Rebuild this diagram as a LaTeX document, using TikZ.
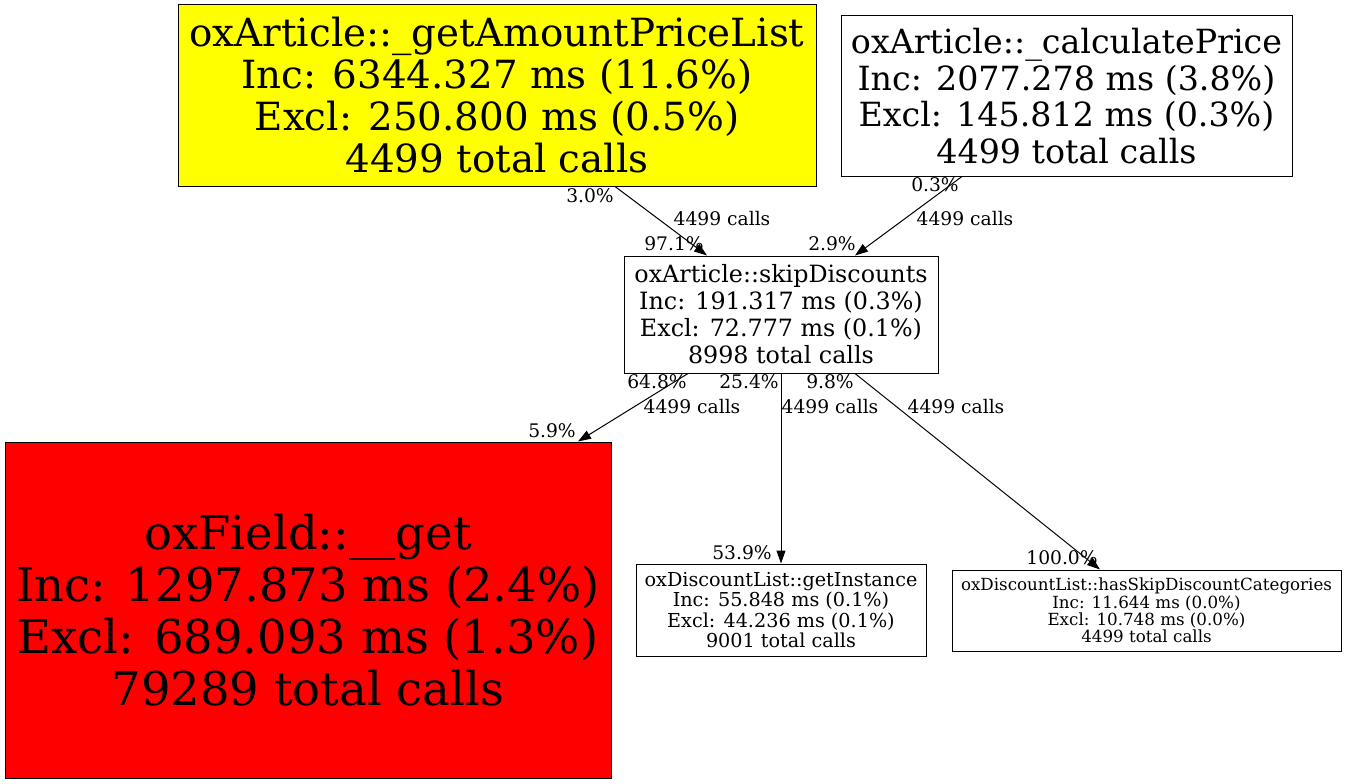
\documentclass[tikz,border=0pt]{standalone}
\usepackage{fontspec}
\setmainfont{DejaVu Serif}
\usetikzlibrary{arrows.meta}
\newcommand{\fs}[2]{\fontsize{#1}{#2}\selectfont}
\definecolor{hotyellow}{RGB}{255,255,0}
\definecolor{hotred}{RGB}{255,0,0}

\begin{document}
\begin{tikzpicture}[x=1pt, y=-1pt,
	fn/.style={draw, line width=1pt, inner sep=0pt, align=center},
	lbl/.style={inner sep=0pt, font=\fs{18.7}{20}},
	call/.style={line width=1pt, -{Triangle[length=13pt,width=9pt]}}]
\useasboundingbox (0,0) rectangle (1347,784);
% function nodes
\node[fn, fill=hotyellow, minimum width=638pt, minimum height=181pt, font=\fs{38.8}{42}] (0) at (497, 95.5)
	{oxArticle::\_getAmountPriceList\\Inc: 6344.327 ms (11.6\%)\\Excl: 250.800 ms (0.5\%)\\4499 total calls};
\node[fn, minimum width=451pt, minimum height=160pt, font=\fs{33.3}{36.5}] (1) at (1066.5, 96)
	{oxArticle::\_calculatePrice\\Inc: 2077.278 ms (3.8\%)\\Excl: 145.812 ms (0.3\%)\\4499 total calls};
\node[fn, minimum width=314pt, minimum height=117pt, font=\fs{23.8}{27}] (2) at (781, 314.5)
	{oxArticle::skipDiscounts\\Inc: 191.317 ms (0.3\%)\\Excl: 72.777 ms (0.1\%)\\8998 total calls};
\node[fn, fill=hotred, minimum width=606pt, minimum height=336pt, font=\fs{46.5}{52}] (3) at (308, 610)
	{oxField::\_\_get\\Inc: 1297.873 ms (2.4\%)\\Excl: 689.093 ms (1.3\%)\\79289 total calls};
\node[fn, minimum width=290pt, minimum height=92pt, font=\fs{19.2}{20.2}] (4) at (781, 610)
	{oxDiscountList::getInstance\\Inc: 55.848 ms (0.1\%)\\Excl: 44.236 ms (0.1\%)\\9001 total calls};
\node[fn, minimum width=389pt, minimum height=81pt, font=\fs{16.7}{17.2}] (5) at (1146.5, 610.5)
	{oxDiscountList::hasSkipDiscountCategories\\Inc: 11.644 ms (0.0\%)\\Excl: 10.748 ms (0.0\%)\\4499 total calls};
% calls
\draw[call] ([xshift=118pt]0.south) to ([xshift=-74pt]2.north);
\draw[call] ([xshift=-104.5pt]1.south) to ([xshift=74pt]2.north);
\draw[call] ([xshift=-93pt]2.south) to ([xshift=270pt]3.north);
\draw[call] (2.south) to (4.north);
\draw[call] ([xshift=74pt]2.south) to ([xshift=-46.5pt]5.north);
% edge labels
\node[lbl] (t0) at (590, 196) {3.0\%};
\node[lbl] (c0) at (722, 219) {4499 calls};
\node[lbl] (h0) at (674, 244) {97.1\%};
\node[lbl] (t1) at (935, 185) {0.3\%};
\node[lbl] (c1) at (965, 219) {4499 calls};
\node[lbl] (h1) at (832, 244) {2.9\%};
\node[lbl] (t3) at (657, 382) {64.8\%};
\node[lbl] (c3) at (692, 407) {4499 calls};
\node[lbl] (h3) at (552, 431) {5.9\%};
\node[lbl] (t4) at (749, 382) {25.4\%};
\node[lbl] (c4) at (830, 407) {4499 calls};
\node[lbl] (h4) at (742, 553) {53.9\%};
\node[lbl] (t5) at (830, 382) {9.8\%};
\node[lbl] (c5) at (956, 407) {4499 calls};
\node[lbl] (h5) at (1062, 558) {100.0\%};
\end{tikzpicture}
\end{document}
